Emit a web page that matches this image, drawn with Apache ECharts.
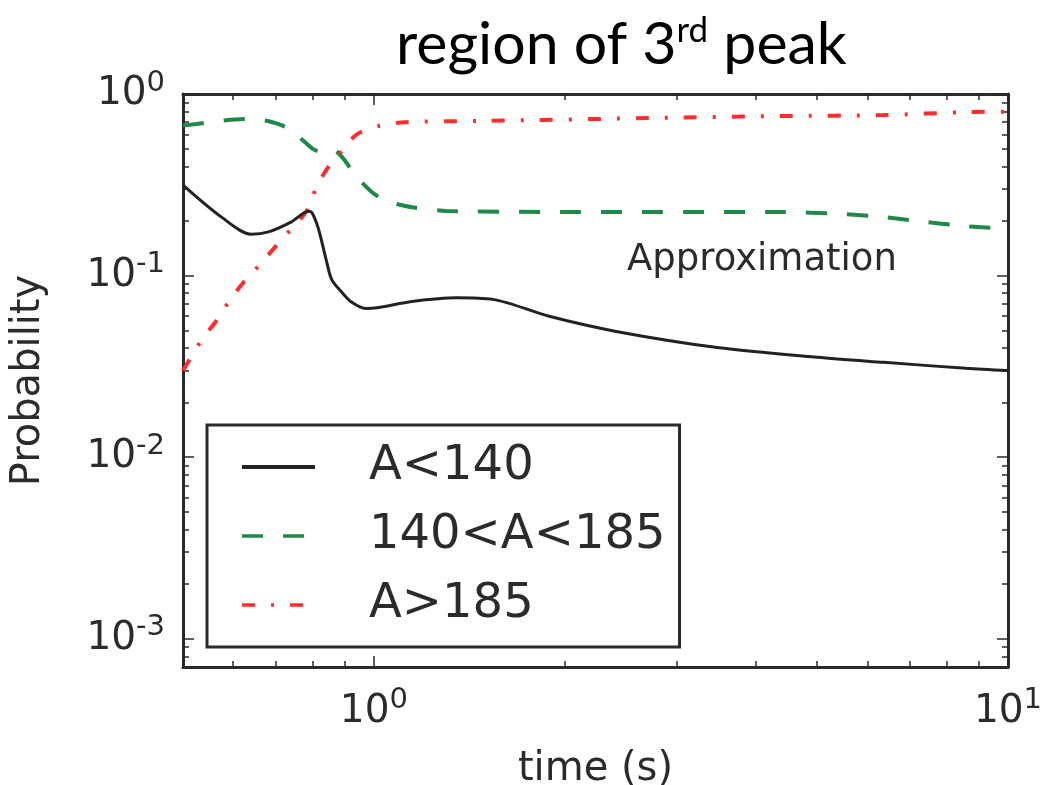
<!DOCTYPE html>
<html>
<head>
<meta charset="utf-8">
<script src="https://cdn.jsdelivr.net/npm/echarts@6/dist/echarts.min.js"></script>
<style>
html,body{margin:0;padding:0;background:#fff;}
#chart{width:1055px;height:785px;}
</style>
</head>
<body>
<div id="chart"></div>
<script>
// ---- data ----
const seriesNames = ['A<140', '140<A<185', 'A>185'];

const timeA = [0.5, 0.575, 0.641, 0.682, 0.74, 0.789, 0.80, 0.818, 0.843, 0.858, 0.89, 0.923, 0.97, 1.018, 1.148, 1.35, 1.54, 1.89, 2.41, 3.48, 5.0, 6.37, 8.58, 10];
const probA = [0.315, 0.21, 0.169, 0.174, 0.197, 0.226, 0.22, 0.18, 0.118, 0.095, 0.081, 0.0713, 0.066, 0.0668, 0.072, 0.0755, 0.074, 0.0597, 0.0493, 0.0402, 0.0355, 0.0333, 0.0309, 0.030];

const timeB = [0.5, 0.525, 0.58, 0.627, 0.68, 0.726, 0.753, 0.78, 0.80, 0.818, 0.835, 0.855, 0.875, 0.90, 0.937, 0.993, 1.045, 1.148, 1.30, 2.0, 4.42, 5.4, 6.37, 7.2, 8.58, 10];
const probB = [0.67, 0.684, 0.715, 0.728, 0.71, 0.658, 0.60, 0.54, 0.50, 0.484, 0.49, 0.50, 0.48, 0.43, 0.353, 0.288, 0.257, 0.238, 0.227, 0.224, 0.224, 0.219, 0.21, 0.20, 0.187, 0.181];

const timeC = [0.5, 0.538, 0.562, 0.59, 0.623, 0.658, 0.70, 0.74, 0.783, 0.81, 0.843, 0.89, 0.94, 1.018, 1.124, 1.47, 2.72, 4.42, 6.37, 8.58, 10];
const probC = [0.03, 0.0457, 0.0552, 0.0715, 0.092, 0.113, 0.145, 0.18, 0.226, 0.30, 0.386, 0.485, 0.60, 0.666, 0.70, 0.71, 0.737, 0.756, 0.766, 0.795, 0.80];

const xMajorTicks = [1, 10];
const xMinorTicks = [0.5, 0.6, 0.7, 0.8, 0.9, 2, 3, 4, 5, 6, 7, 8, 9];
const yMajorTicks = [0.001, 0.01, 0.1, 1];
const yMinorTicks = [0.0007, 0.0008, 0.0009, 0.002, 0.003, 0.004, 0.005, 0.006, 0.007, 0.008, 0.009,
  0.02, 0.03, 0.04, 0.05, 0.06, 0.07, 0.08, 0.09, 0.2, 0.3, 0.4, 0.5, 0.6, 0.7, 0.8, 0.9];

const titleText = 'region of 3';
const titleSup = 'rd';
const titleRest = ' peak';
const annotation = 'Approximation';
const xName = 'time (s)';
const yName = 'Probability';

// ---- chart ----
const pairs = (xs, ys) => xs.map((x, i) => [x, ys[i]]);
const axisColor = '#2b2b2b';
const font = 'DejaVu Sans';
const colors = ['#222222', '#1f8a47', '#ff2e2e'];
const widths = [3, 4, 4];
const dashes = ['solid', [21, 20], [13, 16, 3, 16]];

function powLabel(v) {
  const e = Math.round(Math.log10(v));
  return '{b|10}{s|' + e + '}';
}
const labelRich = {
  b: { fontSize: 39, fontFamily: font, color: '#2b2b2b' },
  s: { fontSize: 29, fontFamily: font, color: '#2b2b2b', padding: [0, 0, 22, 0] }
};

function makeAxis(kind, pos, ticks, len, withLabels, withLine, extra) {
  const ax = {
    type: 'log', logBase: 10, position: pos,
    min: kind === 'x' ? 0.5 : 0.0007,
    max: kind === 'x' ? 10 : 1,
    splitLine: { show: false },
    axisLine: { show: withLine, lineStyle: { color: axisColor, width: 3 } },
    axisTick: { show: true, inside: true, length: len, customValues: ticks, lineStyle: { color: axisColor, width: 1.5 } },
    axisLabel: { show: withLabels },
    minorTick: { show: false }
  };
  return Object.assign(ax, extra || {});
}

const xAxes = [
  makeAxis('x', 'bottom', xMajorTicks, 11, true, true, {
    name: xName, nameLocation: 'middle', nameGap: 83,
    nameTextStyle: { fontSize: 40, fontFamily: font, color: '#2b2b2b' },
    axisLabel: { show: true, customValues: xMajorTicks, margin: 19, formatter: powLabel, rich: labelRich }
  }),
  makeAxis('x', 'bottom', xMinorTicks, 6, false, false),
  makeAxis('x', 'top', xMajorTicks, 11, false, true),
  makeAxis('x', 'top', xMinorTicks, 6, false, false)
];
const yAxes = [
  makeAxis('y', 'left', yMajorTicks, 11, true, true, {
    name: yName, nameLocation: 'middle', nameGap: 134, nameRotate: 90,
    nameTextStyle: { fontSize: 40, fontFamily: font, color: '#2b2b2b' },
    axisLabel: { show: true, customValues: yMajorTicks, margin: 18, formatter: powLabel, rich: labelRich }
  }),
  makeAxis('y', 'left', yMinorTicks, 6, false, false),
  makeAxis('y', 'right', yMajorTicks, 11, false, true),
  makeAxis('y', 'right', yMinorTicks, 6, false, false)
];

const chart = echarts.init(document.getElementById('chart'), null, { renderer: 'canvas' });
chart.setOption({
  animation: false,
  backgroundColor: '#ffffff',
  grid: { left: 183, top: 94, right: 47, bottom: 118, containLabel: false, outerBoundsMode: 'none' },
  title: {
    text: '{a|' + titleText + '}{s|' + titleSup + '}{a|' + titleRest + '}',
    left: 391, top: 8,
    textStyle: {
      fontWeight: 'normal',
      rich: {
        a: { fontSize: 59, fontFamily: 'Lato', fontWeight: 'normal', color: '#000' },
        s: { fontSize: 35, fontFamily: 'Lato', fontWeight: 'normal', color: '#000', padding: [0, 0, 28, 0] }
      }
    }
  },
  legend: {
    orient: 'vertical',
    left: 207, top: 425,
    padding: [18, 14, 18, 33],
    itemWidth: 73, itemHeight: 20, itemGap: 21,
    borderColor: '#2b2b2b', borderWidth: 3, borderRadius: 0,
    backgroundColor: '#fff',
    itemStyle: { opacity: 0, color: 'transparent', borderWidth: 0 },
    textStyle: { fontSize: 48, fontFamily: font, color: '#2b2b2b', lineHeight: 48, padding: [0, 0, 0, 49] },
    data: seriesNames.map((n, i) => ({
      name: n,
      itemStyle: { opacity: 0, color: 'transparent', borderWidth: 0 },
      lineStyle: { color: colors[i], width: i === 0 ? 4 : 3.5, type: dashes[i], opacity: 1 }
    }))
  },
  xAxis: xAxes,
  yAxis: yAxes,
  graphic: [{
    type: 'text', left: 627, top: 242,
    style: { text: annotation, fontSize: 37, fontFamily: font, fill: '#2b2b2b' }
  }],
  series: [
    {
      name: seriesNames[0], type: 'line', data: pairs(timeA, probA),
      showSymbol: false, symbol: 'none', smooth: 0.3,
      lineStyle: { color: colors[0], width: widths[0], type: dashes[0] }, itemStyle: { color: colors[0] }, z: 3
    },
    {
      name: seriesNames[1], type: 'line', data: pairs(timeB, probB),
      showSymbol: false, symbol: 'none', smooth: 0.2,
      lineStyle: { color: colors[1], width: widths[1], type: dashes[1] }, itemStyle: { color: colors[1] }, z: 2
    },
    {
      name: seriesNames[2], type: 'line', data: pairs(timeC, probC),
      showSymbol: false, symbol: 'none', smooth: 0.3,
      lineStyle: { color: colors[2], width: widths[2], type: dashes[2] }, itemStyle: { color: colors[2] }, z: 2
    }
  ]
});
</script>
</body>
</html>
